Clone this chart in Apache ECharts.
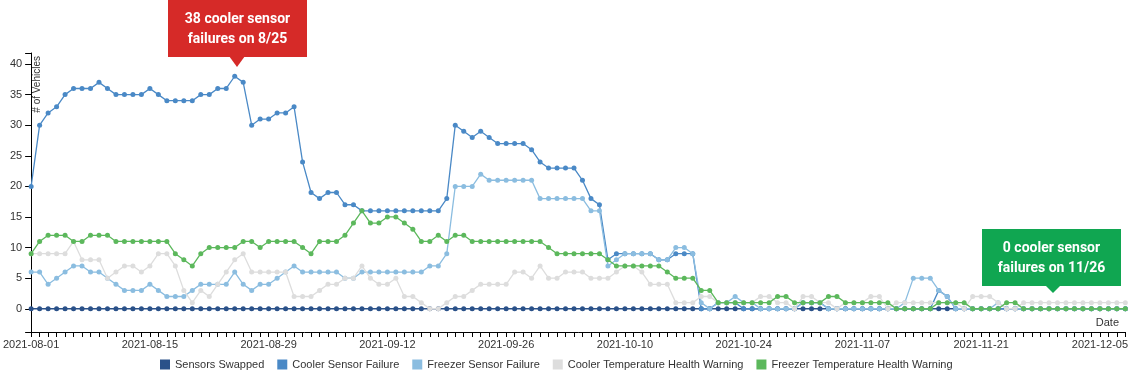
<!DOCTYPE html>
<html>
<head>
<meta charset="utf-8">
<script src="https://cdn.jsdelivr.net/npm/echarts@6/dist/echarts.min.js"></script>
<style>
html,body{margin:0;padding:0;background:#fff;}
#chart{width:1131px;height:381px;}
</style>
</head>
<body>
<div id="chart"></div>
<script>
const startDate = '2021-08-01';
const dayCount = 130;
const seriesNames = ['Sensors Swapped','Cooler Sensor Failure','Freezer Sensor Failure','Cooler Temperature Health Warning','Freezer Temperature Health Warning'];
const seriesColors = ['#2a5189','#4a89c6','#8bbde0','#dddddd','#5cb85c'];
const yTicks = [0,5,10,15,20,25,30,35,40];

const sensorsSwapped = [
0,0,0,0,0,0,0,0,0,0, 0,0,0,0,0,0,0,0,0,0, 0,0,0,0,0,0,0,0,0,0,
0,0,0,0,0,0,0,0,0,0, 0,0,0,0,0,0,0,0,0,0, 0,0,0,0,0,0,0,0,0,0,
0,0,0,0,0,0,0,0,0,0, 0,0,0,0,0,0,0,0,0,0, 0,0,0,0,0,0,0,0,0,0,
0,0,0,0,0,0,0,0,0,0, 0,0,0,0,0,0,0,0,0,0, 0,0,0,0,0,0,0,0,0,0,
0,0,0,0,0,0,0,0,0,0];
const coolerSensorFailure = [
20,30,32,33,35,36,36,36,37,36, 35,35,35,35,36,35,34,34,34,34,
35,35,36,36,38,37,30,31,31,32, 32,33,24,19,18,19,19,17,17,16,
16,16,16,16,16,16,16,16,16,18, 30,29,28,29,28,27,27,27,27,26,
24,23,23,23,23,21,18,17,8,9, 9,9,9,9,8,8,9,9,9,0,
0,1,1,1,0,0,0,0,0,0, 0,1,1,1,0,0,0,0,0,0,
0,0,0,0,0,0,0,3,2,0, 0,0,0,0,0,0,0,0,0,0,
0,0,0,0,0,0,0,0,0,0];
const freezerSensorFailure = [
6,6,4,5,6,7,7,6,6,5, 4,3,3,3,4,3,2,2,2,3,
4,4,4,4,6,4,3,4,4,5, 6,7,6,6,6,6,6,5,5,6,
6,6,6,6,6,6,6,7,7,9, 20,20,20,22,21,21,21,21,21,21,
18,18,18,18,18,18,16,16,7,8, 9,9,9,9,8,8,10,10,9,1,
0,1,1,2,1,1,0,0,0,0, 0,1,1,1,0,0,0,0,0,0,
0,0,0,1,5,5,5,3,2,0, 0,0,0,0,1,0,0,0,0,0,
0,0,0,0,0,0,0,0,0,0];
const coolerTempWarning = [
9,9,9,9,9,11,8,8,8,5, 6,7,7,6,7,9,9,7,3,1,
3,2,4,6,8,9,6,6,6,6, 6,2,2,2,3,4,4,5,5,7,
5,4,4,5,2,2,1,0,0,1, 2,2,3,4,4,4,4,6,6,5,
7,5,5,6,6,6,5,5,5,6, 7,7,6,4,4,4,1,1,1,2,
2,1,1,1,1,1,2,2,1,1, 0,2,2,1,1,0,1,1,1,2,
2,0,1,1,1,1,1,1,1,1, 0,2,2,2,1,0,0,1,1,1,
1,1,1,1,1,1,1,1,1,1];
const freezerTempWarning = [
9,11,12,12,12,11,11,12,12,12, 11,11,11,11,11,11,11,9,8,7,
9,10,10,10,10,11,11,10,11,11, 11,11,10,9,11,11,11,12,14,16,
14,14,15,15,14,13,11,11,12,11, 12,12,11,11,11,11,11,11,11,11,
11,10,9,9,9,9,9,9,8,7, 7,7,7,7,7,6,5,5,5,3,
3,1,1,1,1,1,1,1,2,2, 1,1,1,1,2,2,1,1,1,1,
1,1,0,0,0,0,0,1,1,1, 1,0,0,0,0,1,1,0,0,0,
0,0,0,0,0,0,0,0,0,0];

const dates = [];
{
  const d0 = new Date(startDate + 'T00:00:00Z');
  for (let i = 0; i < dayCount; i++) {
    const d = new Date(d0.getTime() + i * 86400000);
    dates.push(d.toISOString().slice(0, 10));
  }
}
const allValues = [sensorsSwapped, coolerSensorFailure, freezerSensorFailure, coolerTempWarning, freezerTempWarning];
const maxV = Math.max(...allValues.flat());
const yMin = -0.1 * maxV, yMax = 1.1 * maxV;

const chart = echarts.init(document.getElementById('chart'), null, {renderer: 'canvas'});
const axisFont = '"Liberation Sans", Arial, sans-serif';

chart.setOption({
  animation: false,
  backgroundColor: '#fff',
  grid: {left: 29.5, right: 5, top: 53, bottom: 49, containLabel: false},
  legend: {
    bottom: 6, left: 155, padding: 5,
    icon: 'rect', itemWidth: 10, itemHeight: 10, itemGap: 13,
    textStyle: {fontFamily: axisFont, fontSize: 11, color: '#333'},
    data: seriesNames
  },
  xAxis: {
    type: 'category', data: dates, boundaryGap: false,
    axisLine: {onZero: false, lineStyle: {color: '#000', width: 1}},
    axisTick: {show: true, interval: 0, length: 5, lineStyle: {color: '#000'}},
    axisLabel: {interval: 13, fontFamily: axisFont, fontSize: 11, color: '#333', margin: 7},
    splitLine: {show: false}
  },
  yAxis: {
    type: 'value', min: yMin, max: yMax,
    axisLine: {show: true, onZero: false, lineStyle: {color: '#000', width: 1}},
    axisTick: {show: true, length: 6, customValues: [yMin].concat(yTicks, [yMax]), lineStyle: {color: '#000'}},
    axisLabel: {customValues: yTicks, fontFamily: axisFont, fontSize: 11, color: '#333', margin: 9},
    splitLine: {show: false}
  },
  series: seriesNames.map((name, i) => ({
    name, type: 'line', data: allValues[i],
    color: seriesColors[i],
    symbol: 'circle', symbolSize: 5, showSymbol: true,
    lineStyle: {width: 1.3, color: seriesColors[i]},
    itemStyle: {color: seriesColors[i]},
    emphasis: {disabled: true},
    z: 2 + i
  })),
  graphic: [
    {type: 'text', rotation: Math.PI / 2, x: 37, y: 56, style: {text: '# of Vehicles', x: 0, y: 0, align: 'right', verticalAlign: 'middle', font: '10px ' + axisFont, fill: '#333'}},
    {type: 'text', style: {text: 'Date', x: 1119, y: 323, align: 'right', verticalAlign: 'middle', font: '11px ' + axisFont, fill: '#333'}},
    {type: 'group', children: [
      {type: 'rect', shape: {x: 168, y: 0, width: 139, height: 57}, style: {fill: '#d62a28'}},
      {type: 'polygon', shape: {points: [[229, 56], [245, 56], [237, 67]]}, style: {fill: '#d62a28'}},
      {type: 'text', style: {text: '38 cooler sensor\nfailures on 8/25', x: 237.5, y: 29, align: 'center', verticalAlign: 'middle', font: 'bold 14px Roboto, sans-serif', lineHeight: 20, fill: '#fff'}}
    ]},
    {type: 'group', children: [
      {type: 'rect', shape: {x: 982, y: 229, width: 139, height: 57}, style: {fill: '#10a651'}},
      {type: 'polygon', shape: {points: [[1045, 285], [1061, 285], [1053, 293]]}, style: {fill: '#10a651'}},
      {type: 'text', style: {text: '0 cooler sensor\nfailures on 11/26', x: 1051.5, y: 258, align: 'center', verticalAlign: 'middle', font: 'bold 14px Roboto, sans-serif', lineHeight: 20, fill: '#fff'}}
    ]}
  ]
});
</script>
</body>
</html>
